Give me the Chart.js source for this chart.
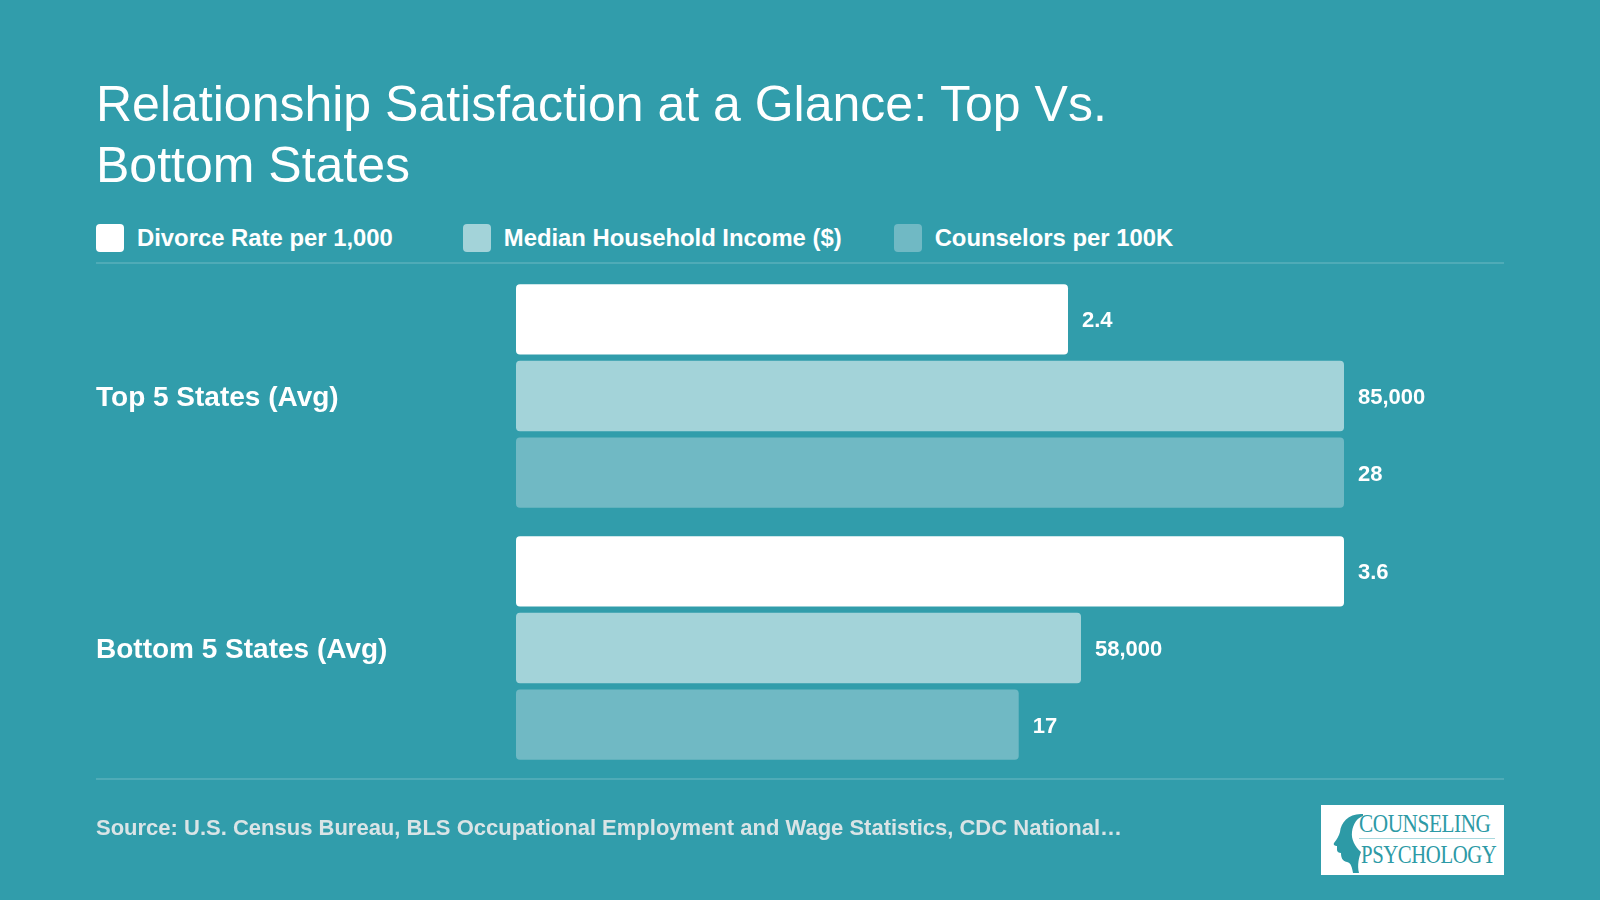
<!DOCTYPE html>
<html>
<head>
<meta charset="utf-8">
<script src="https://cdn.jsdelivr.net/npm/chart.js@4.4.1/dist/chart.umd.min.js"></script>
<style>
  html, body { margin: 0; padding: 0; }
  body {
    width: 1600px; height: 900px; overflow: hidden;
    background: #319dab;
    font-family: "Liberation Sans", Arial, Helvetica, sans-serif;
    position: relative;
  }
  #title {
    position: absolute; left: 96px; top: 74px; width: 1100px;
    color: #fff; font-size: 50px; line-height: 61px; font-weight: normal; margin: 0;
  }
  #legend {
    position: absolute; left: 96px; top: 224px; height: 28px;
    display: flex; align-items: center;
  }
  .item { display: flex; align-items: center; }
  .box { width: 28px; height: 28px; border-radius: 4px; margin-right: 13px; }
  .item span { color: #fff; font-size: 23.85px; font-weight: bold; }
  .rule { position: absolute; left: 96px; width: 1408px; height: 2px; background: rgba(255,255,255,0.15); }
  #source {
    position: absolute; left: 96px; top: 815px; font-size: 22px; line-height: 26px;
    font-weight: bold; color: #d9e4e6;
  }
  #logo {
    position: absolute; left: 1321px; top: 805px; width: 183px; height: 70px; background: #fff;
    font-family: "Liberation Serif", "DejaVu Serif", serif; color: #2d9aa6;
  }
  #logo .l1 { position: absolute; left: 38px; top: 5px; font-size: 25px; transform: scaleX(0.85); transform-origin: left top; letter-spacing: -0.5px; }
  #logo .l2 { position: absolute; left: 40px; top: 36px; font-size: 25px; transform: scaleX(0.83); transform-origin: left top; letter-spacing: -0.5px; }
  #logo .bar { position: absolute; left: 38px; top: 33px; width: 136px; height: 1px; background: #a8d8dd; }
  #logo svg { position: absolute; left: 0; top: 0; }
  #wrap { position: absolute; left: 0; top: 0; width: 1600px; height: 900px; }
</style>
</head>
<body>
<h1 id="title">Relationship Satisfaction at a Glance: Top Vs. Bottom States</h1>
<div id="legend"></div>
<div class="rule" style="top:262px"></div>
<div class="rule" style="top:778px"></div>
<div id="wrap"><canvas id="chart"></canvas></div>
<div id="source">Source: U.S. Census Bureau, BLS Occupational Employment and Wage Statistics, CDC National…</div>
<div id="logo">
  <svg width="60" height="70" viewBox="0 0 60 70">
    <path d="M42 9 C28 8 20 17 19 27 C18 31 16 34 13 38 C12 40 14 41 16 41 L16 45 C16 47 18 48 20 48 C20 52 21 56 26 57 C30 58 31 62 32 68 L38 68 C36 60 38 52 40 47 C34 42 30 34 31 27 C32 19 36 13 42 11 Z" fill="#2d9aa6"/>
  </svg>
  <div class="l1">COUNSELING</div>
  <div class="bar"></div>
  <div class="l2">PSYCHOLOGY</div>
</div>
<script>
const categories = ['Top 5 States (Avg)', 'Bottom 5 States (Avg)'];
const seriesNames = ['Divorce Rate per 1,000', 'Median Household Income ($)', 'Counselors per 100K'];
const divorceRate = [2.4, 3.6];
const medianIncome = [85000, 58000];
const counselors = [28, 17];
const seriesColors = ['#ffffff', '#a3d3d9', '#70b9c4'];

const seriesValues = [divorceRate, medianIncome, counselors];

// legend (html), gaps
const legendGaps = [70, 52, 0];
const legendEl = document.getElementById('legend');
seriesNames.forEach((name, i) => {
  const item = document.createElement('div');
  item.className = 'item';
  item.style.marginRight = legendGaps[i] + 'px';
  item.innerHTML = '<div class="box" style="background:' + seriesColors[i] + '"></div><span>' + name + '</span>';
  legendEl.appendChild(item);
});

const FONT = '"Liberation Sans", Arial, Helvetica, sans-serif';

// each series gets its own hidden x scale so bars are relative to that series' max
const scales = {
  y: {
    type: 'category',
    grid: { display: false, drawTicks: false },
    border: { display: false },
    ticks: {
      crossAlign: 'far',
      labelOffset: 2,
      color: '#ffffff',
      font: { family: FONT, size: 28, weight: 'bold' }
    },
    afterFit: (scale) => { scale.width = 420; }
  }
};
seriesValues.forEach((vals, i) => {
  scales['x' + i] = {
    type: 'linear',
    axis: 'x',
    position: 'bottom',
    display: false,
    min: 0,
    max: Math.max(...vals)
  };
});

const valueLabels = {
  id: 'valueLabels',
  afterDatasetsDraw(chart) {
    const ctx = chart.ctx;
    ctx.save();
    ctx.fillStyle = '#ffffff';
    ctx.font = 'bold 22px ' + FONT;
    ctx.textBaseline = 'middle';
    ctx.textAlign = 'left';
    chart.data.datasets.forEach((ds, i) => {
      const meta = chart.getDatasetMeta(i);
      meta.data.forEach((bar, j) => {
        ctx.fillText(ds.data[j].toLocaleString('en-US'), bar.x + 14, bar.y + 2);
      });
    });
    ctx.restore();
  }
};

new Chart(document.getElementById('chart'), {
  type: 'bar',
  data: {
    labels: categories,
    datasets: seriesValues.map((vals, i) => ({
      label: seriesNames[i],
      data: vals,
      xAxisID: 'x' + i,
      backgroundColor: seriesColors[i],
      borderRadius: 4,
      borderSkipped: false,
      categoryPercentage: 0.912,
      barPercentage: 0.918
    }))
  },
  options: {
    indexAxis: 'y',
    responsive: true,
    maintainAspectRatio: false,
    animation: false,
    layout: { padding: { left: 96, right: 256, top: 270, bottom: 126 } },
    scales: scales,
    plugins: {
      legend: { display: false },
      tooltip: { enabled: false }
    }
  },
  plugins: [valueLabels]
});
</script>
</body>
</html>
